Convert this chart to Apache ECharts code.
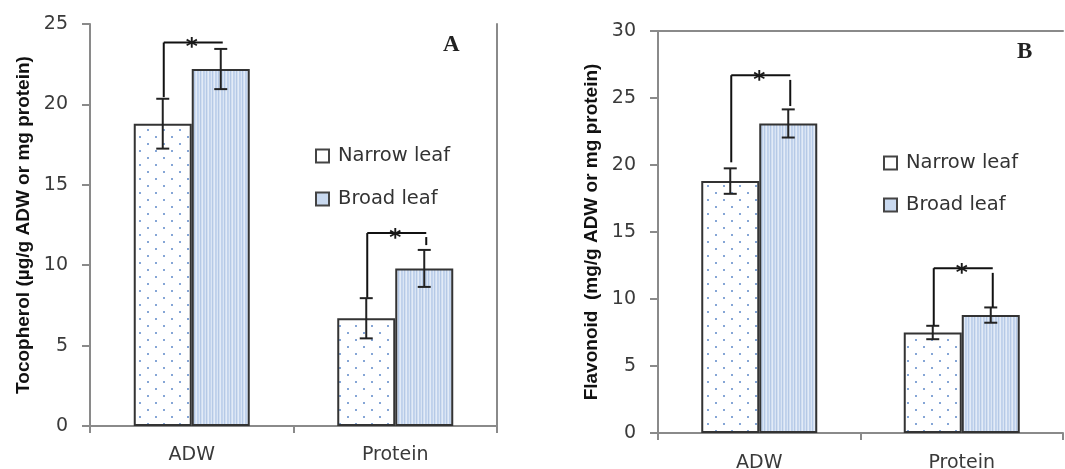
<!DOCTYPE html>
<html><head><meta charset="utf-8">
<script src="https://cdn.jsdelivr.net/npm/echarts@6/dist/echarts.min.js"></script>
<style>html,body{margin:0;padding:0;background:#fff}#c{width:1065px;height:469px}</style>
</head><body><div id="c"></div>
<script>
// ---------- data ----------
const categories = ['ADW', 'Protein'];
const seriesNames = ['Narrow leaf', 'Broad leaf'];

// Panel A : Tocopherol (µg/g ADW or mg protein)
const tocoNarrow = [18.8, 6.7];
const tocoBroad = [22.2, 9.8];
const tocoNarrowErr = [1.55, 1.25];
const tocoBroadErr = [1.25, 1.15];
// [category, bracket level, left line from, left line to, right line from, right line to]
const tocoBrackets = [[0, 23.85, 23.85, 20.45, 23.85, 23.85], [1, 12.0, 12.0, 7.98, 11.75, 11.25]];
const tocoAxis = {min: 0, max: 25, interval: 5};

// Panel B : Flavonoid (mg/g ADW or mg protein)
const flavNarrow = [18.8, 7.5];
const flavBroad = [23.1, 8.8];
const flavNarrowErr = [0.95, 0.5];
const flavBroadErr = [1.05, 0.57];
const flavBrackets = [[0, 26.7, 26.7, 20.2, 26.35, 24.4], [1, 12.3, 12.3, 8.02, 11.95, 9.4]];
const flavAxis = {min: 0, max: 30, interval: 5};

// ---------- styling helpers ----------
const AXIS_GRAY = '#8a8a8a';
const BAR_W = 58;

function dotPattern() {
  const c = document.createElement('canvas');
  c.width = 16; c.height = 14;
  const g = c.getContext('2d');
  g.fillStyle = '#ffffff'; g.fillRect(0, 0, 16, 14);
  g.fillStyle = '#86a6d6';
  g.fillRect(3, 3, 2, 2);
  g.fillRect(11, 10, 2, 2);
  return {image: c, repeat: 'repeat'};
}
function stripePattern() {
  const cols = ['#c3d4ed', '#dae5f4', '#b5c9e6', '#d2dff1', '#e3ebf7', '#bfd1eb'];
  const c = document.createElement('canvas');
  c.width = cols.length; c.height = 4;
  const g = c.getContext('2d');
  cols.forEach((col, i) => { g.fillStyle = col; g.fillRect(i, 0, 1, 4); });
  return {image: c, repeat: 'repeat'};
}
const narrowFill = dotPattern();
const broadFill = stripePattern();

function errRender(side) {
  return function (params, api) {
    const ci = api.value(0), v = api.value(1), e = api.value(2);
    const top = api.coord([ci, v + e]);
    const bot = api.coord([ci, v - e]);
    const x = top[0] + side * BAR_W / 2;
    const cap = 6.5;
    const st = {stroke: '#222', lineWidth: 2};
    return {type: 'group', children: [
      {type: 'line', shape: {x1: x, y1: top[1], x2: x, y2: bot[1]}, style: st},
      {type: 'line', shape: {x1: x - cap, y1: top[1], x2: x + cap, y2: top[1]}, style: st},
      {type: 'line', shape: {x1: x - cap, y1: bot[1], x2: x + cap, y2: bot[1]}, style: st}
    ]};
  };
}
function bracketRender(params, api) {
  const ci = api.value(0);
  const lvl = api.coord([ci, api.value(1)]);
  const lf = api.coord([ci, api.value(2)]), lt = api.coord([ci, api.value(3)]);
  const rf = api.coord([ci, api.value(4)]), rt = api.coord([ci, api.value(5)]);
  const xl = lvl[0] - BAR_W / 2 + 1, xr = lvl[0] + BAR_W / 2 + 2;
  const st = {stroke: '#111', lineWidth: 2};
  const ch = [
    {type: 'line', shape: {x1: xl, y1: lvl[1], x2: xr, y2: lvl[1]}, style: st},
    {type: 'line', shape: {x1: xl, y1: lf[1], x2: xl, y2: lt[1]}, style: st}
  ];
  if (Math.abs(rt[1] - rf[1]) > 0.5) {
    ch.push({type: 'line', shape: {x1: xr, y1: rf[1], x2: xr, y2: rt[1]}, style: st});
  }
  ch.push({type: 'text', style: {text: '*', x: lvl[0], y: lvl[1] + 6, align: 'center', verticalAlign: 'middle',
    font: 'bold 23px "DejaVu Sans"', fill: '#1a1a1a'}});
  return {type: 'group', children: ch};
}

function makeY(gi, ax, name) {
  return {
    type: 'value', gridIndex: gi, min: ax.min, max: ax.max, interval: ax.interval,
    name: name, nameLocation: 'middle', nameRotate: 90, nameGap: 57,
    nameTextStyle: {fontFamily: 'Liberation Sans', fontWeight: 'bold', fontSize: 19, color: '#111'},
    axisLine: {show: true, lineStyle: {color: AXIS_GRAY, width: 2}},
    axisTick: {show: true, length: 8, lineStyle: {color: AXIS_GRAY, width: 2}},
    axisLabel: {fontFamily: 'DejaVu Sans', fontSize: 19, color: '#3a3a3a', margin: 22},
    splitLine: {show: false}
  };
}
function makeYRight(gi, ax) {
  return {type: 'value', gridIndex: gi, min: ax.min, max: ax.max, interval: ax.interval, position: 'right',
    axisLine: {show: true, lineStyle: {color: AXIS_GRAY, width: 2}}, axisTick: {show: false},
    axisLabel: {show: false}, splitLine: {show: false}};
}
function makeX(gi, margin) {
  return {type: 'category', gridIndex: gi, data: categories,
    axisLine: {show: true, lineStyle: {color: AXIS_GRAY, width: 2}},
    axisTick: {show: true, length: 7, lineStyle: {color: AXIS_GRAY, width: 2}},
    axisLabel: {fontFamily: 'DejaVu Sans', fontSize: 19, color: '#3a3a3a', margin: margin}};
}
function makeXTop(gi) {
  return {type: 'category', gridIndex: gi, data: categories, position: 'top',
    axisLine: {show: true, lineStyle: {color: AXIS_GRAY, width: 2}}, axisTick: {show: false},
    axisLabel: {show: false}};
}

function panelSeries(gi, xi, yi, narrow, broad, nErr, bErr, brackets) {
  const bs = {borderColor: '#333', borderWidth: 2};
  return [
    {name: seriesNames[0], type: 'bar', xAxisIndex: xi, yAxisIndex: yi, data: narrow, barWidth: BAR_W, barGap: '0%',
      itemStyle: Object.assign({color: narrowFill}, bs), z: 2},
    {name: seriesNames[1], type: 'bar', xAxisIndex: xi, yAxisIndex: yi, data: broad, barWidth: BAR_W, barGap: '0%',
      itemStyle: Object.assign({color: broadFill}, bs), z: 2},
    {type: 'custom', xAxisIndex: xi, yAxisIndex: yi, renderItem: errRender(-1), clip: false, z: 5,
      encode: {x: 0, y: 1}, data: narrow.map((v, i) => [i, v, nErr[i]])},
    {type: 'custom', xAxisIndex: xi, yAxisIndex: yi, renderItem: errRender(1), clip: false, z: 5,
      encode: {x: 0, y: 1}, data: broad.map((v, i) => [i, v, bErr[i]])},
    {type: 'custom', xAxisIndex: xi, yAxisIndex: yi, renderItem: bracketRender, clip: false, z: 6,
      encode: {x: 0, y: 1}, data: brackets}
  ];
}

function makeLegend(left, top, gap) {
  return {
    orient: 'vertical', left: left, top: top, itemGap: gap, itemWidth: 13, itemHeight: 13, icon: 'rect',
    selectedMode: false,
    textStyle: {fontFamily: 'DejaVu Sans', fontSize: 19.5, color: '#333', lineHeight: 18, padding: [0, 0, 0, 4]},
    data: [
      {name: seriesNames[0], itemStyle: {color: '#ffffff', borderColor: '#444', borderWidth: 2}},
      {name: seriesNames[1], itemStyle: {color: '#c9d9ef', borderColor: '#444', borderWidth: 2}}
    ]
  };
}

const chart = echarts.init(document.getElementById('c'), null, {renderer: 'canvas'});
chart.setOption({
  backgroundColor: '#ffffff',
  animation: false,
  grid: [
    {left: 90, top: 24, width: 407, height: 402, outerBoundsMode: 'none', containLabel: false},
    {left: 658, top: 31, width: 405, height: 402, outerBoundsMode: 'none', containLabel: false}
  ],
  xAxis: [makeX(0, 20), makeXTop(0), makeX(1, 21), makeXTop(1)],
  yAxis: [
    makeY(0, tocoAxis, 'Tocopherol (µg/g ADW or mg protein)'),
    makeYRight(0, tocoAxis),
    makeY(1, flavAxis, 'Flavonoid  (mg/g ADW or mg protein)')
  ],
  legend: [makeLegend(310, 141, 23), makeLegend(878, 148, 22)],
  graphic: [
    {type: 'text', left: 443, top: 34, style: {text: 'A', font: 'bold 23px "Liberation Serif"', fill: '#222'}},
    {type: 'text', left: 1017, top: 41, style: {text: 'B', font: 'bold 23px "Liberation Serif"', fill: '#222'}}
  ],
  series: [].concat(
    panelSeries(0, 0, 0, tocoNarrow, tocoBroad, tocoNarrowErr, tocoBroadErr, tocoBrackets),
    panelSeries(1, 2, 2, flavNarrow, flavBroad, flavNarrowErr, flavBroadErr, flavBrackets)
  )
});
</script>
</body></html>
